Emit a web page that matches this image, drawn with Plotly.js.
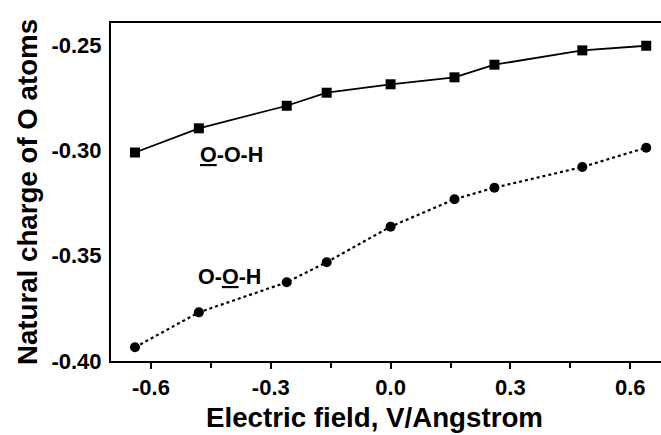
<!DOCTYPE html>
<html>
<head>
<meta charset="utf-8">
<script src="https://cdn.plot.ly/plotly-3.0.1.min.js"></script>
<style>html,body{margin:0;padding:0;background:#fff;}#chart{width:661px;height:435px;}</style>
</head>
<body>
<div id="chart"></div>
<script>
// Data
const fieldValues = [-0.64, -0.48, -0.26, -0.16, 0.0, 0.16, 0.26, 0.48, 0.64];
const chargeOuterO = [-0.301, -0.2895, -0.2788, -0.2726, -0.2686, -0.2653, -0.2593, -0.2525, -0.2503];
const chargeInnerO = [-0.3935, -0.3769, -0.3626, -0.3531, -0.3362, -0.3232, -0.3177, -0.3079, -0.2987];
const xTickVals = [-0.6, -0.3, 0.0, 0.3, 0.6];
const xTickText = ['-0.6', '-0.3', '0.0', '0.3', '0.6'];
const yTickVals = [-0.40, -0.35, -0.30, -0.25];
const yTickText = ['-0.40', '-0.35', '-0.30', '-0.25'];
const labelOuter = '<u>O</u>-O-H';
const labelInner = 'O-<u>O</u>-H';
const xTitle = 'Electric field, V/Angstrom';
const yTitle = 'Natural charge of O atoms';

const FONT = 'Liberation Sans, Arial, Helvetica, sans-serif';

const traces = [
  {
    x: fieldValues, y: chargeOuterO, mode: 'lines+markers', type: 'scatter',
    line: {color: '#000', width: 1.8, dash: 'solid'},
    marker: {symbol: 'square', size: 10, color: '#000'},
    showlegend: false, cliponaxis: false
  },
  {
    x: fieldValues, y: chargeInnerO, mode: 'lines+markers', type: 'scatter',
    line: {color: '#000', width: 2.2, dash: 'dot'},
    marker: {symbol: 'circle', size: 10, color: '#000'},
    showlegend: false, cliponaxis: false
  }
];

const layout = {
  width: 661, height: 435,
  margin: {l: 111, r: 0, t: 23, b: 74},
  paper_bgcolor: '#fff', plot_bgcolor: '#fff',
  font: {family: FONT, color: '#000', size: 22, weight: 'bold'},
  xaxis: {
    range: [-0.7, 0.677],
    tickvals: xTickVals, ticktext: xTickText,
    showgrid: false, zeroline: false,
    showline: true, linecolor: '#000', linewidth: 2, mirror: true,
    ticks: 'outside', ticklen: 6, tickwidth: 2, tickcolor: '#000',
    minor: {dtick: 0.15, tick0: 0, ticks: 'outside', ticklen: 5, tickwidth: 2, tickcolor: '#000'},
    tickfont: {family: FONT, size: 22, weight: 'bold', color: '#000'}
  },
  yaxis: {
    range: [-0.40, -0.2395],
    tickvals: yTickVals, ticktext: yTickText,
    showgrid: false, zeroline: false,
    showline: true, linecolor: '#000', linewidth: 2,
    ticks: '', ticklabelstandoff: 3,
    tickfont: {family: FONT, size: 22, weight: 'bold', color: '#000'},
    title: {text: yTitle, font: {family: FONT, size: 27.7, weight: 'bold', color: '#000'}, standoff: 6}
  },
  annotations: [
    {x: 0.479, y: -0.1657, xref: 'paper', yref: 'paper', text: xTitle, showarrow: false,
     xanchor: 'center', yanchor: 'middle',
     font: {family: FONT, size: 27.7, weight: 'bold', color: '#000'}},
    {x: -0.48, y: -0.3020, xref: 'x', yref: 'y', text: labelOuter, showarrow: false, xanchor: 'left', xshift: -1,
     font: {family: FONT, size: 21.5, weight: 'bold', color: '#000'}},
    {x: -0.48, y: -0.3600, xref: 'x', yref: 'y', text: labelInner, showarrow: false, xanchor: 'left', xshift: -3,
     font: {family: FONT, size: 21.5, weight: 'bold', color: '#000'}}
  ]
};

Plotly.newPlot('chart', traces, layout, {displayModeBar: false, staticPlot: true});
</script>
</body>
</html>
